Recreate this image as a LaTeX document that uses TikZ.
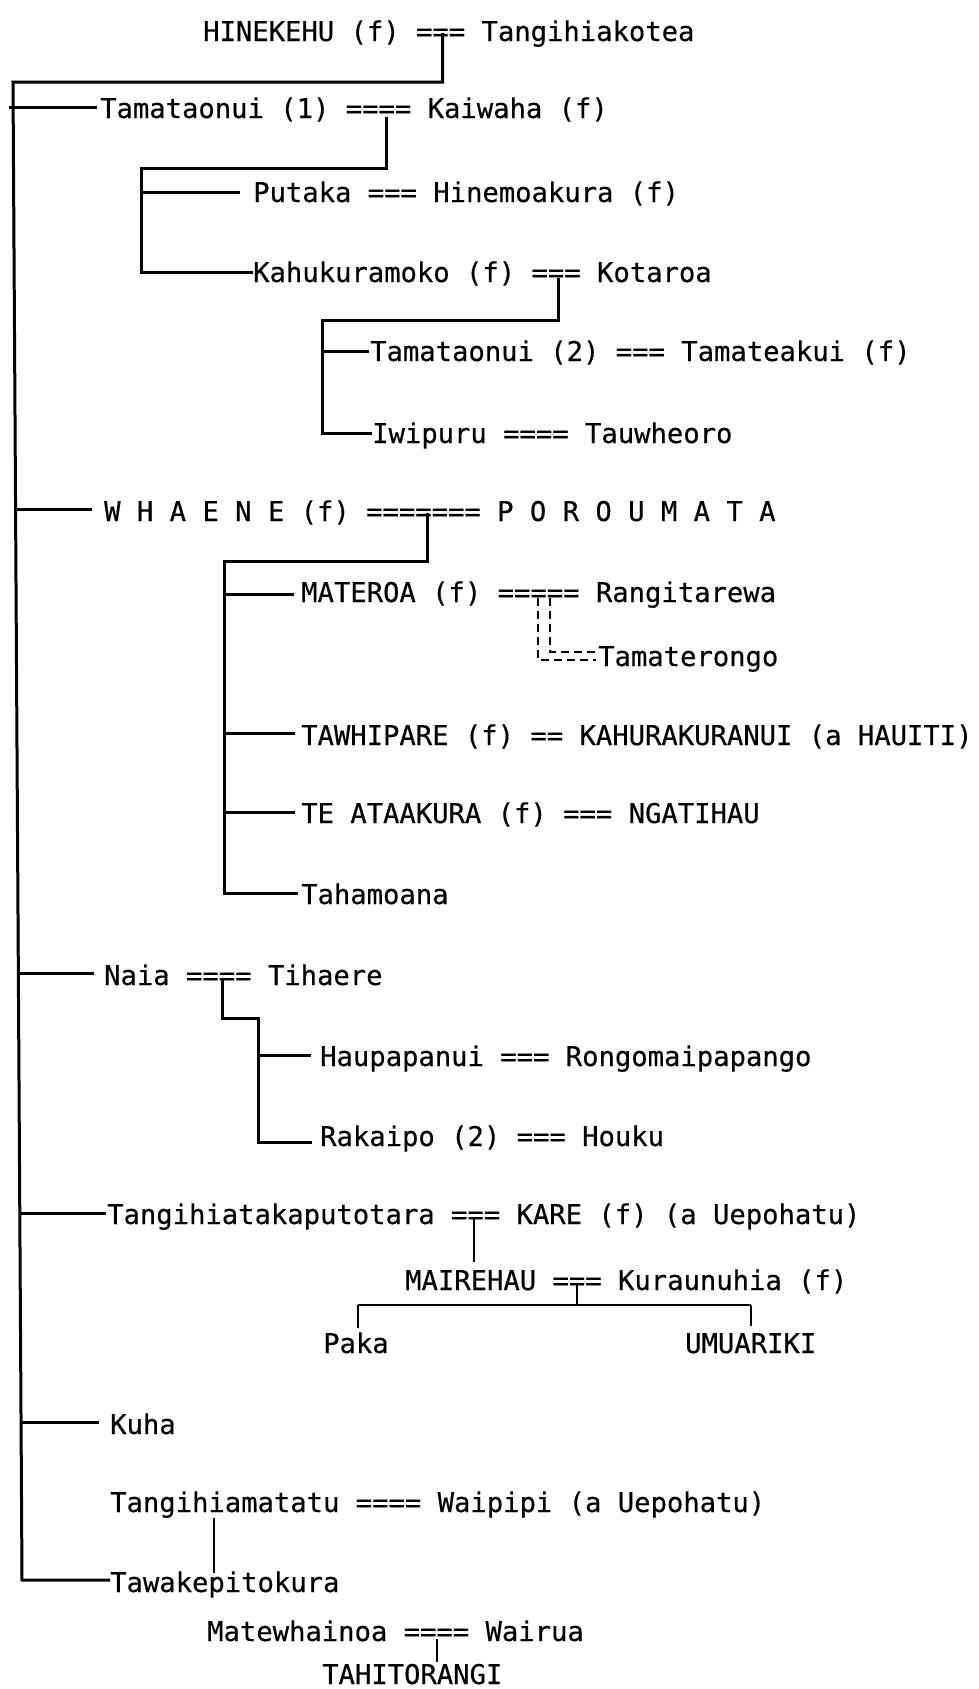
\documentclass[tikz,border=0pt]{standalone}
\usepackage{fontspec}
\newfontfamily\tw[FakeBold=0.4]{DejaVu Sans Mono}
\tikzset{
  person/.style={anchor=base west, inner sep=0pt, font=\tw\fontsize{27.2}{30}\selectfont},
  bracket/.style={line width=3pt, line join=miter},
  fineline/.style={line width=2pt},
  dbl/.style={line width=2pt, dash pattern=on 8pt off 5pt},
}
\begin{document}
\begin{tikzpicture}[x=1pt,y=-1pt]
\fill[white] (0,0) rectangle (978,1689);
\useasboundingbox (0,0) rectangle (978,1689);

% ---------- people ----------
\node[person] (hinekehu) at (203,41) {HINEKEHU (f) === Tangihiakotea};
\node[person] (tama1) at (100,118) {Tamataonui (1) ==== Kaiwaha (f)};
\node[person] (putaka) at (253,202) {Putaka === Hinemoakura (f)};
\node[person] (kahu) at (253,282) {Kahukuramoko (f) === Kotaroa};
\node[person] (tama2) at (370,361) {Tamataonui (2) === Tamateakui (f)};
\node[person] (iwi) at (372,443) {Iwipuru ==== Tauwheoro};
\node[person] (whaene) at (104,521) {W H A E N E (f) ======= P O R O U M A T A};
\node[person] (materoa) at (301,602) {MATEROA (f) ===== Rangitarewa};
\node[person] (tamatero) at (598,666) {Tamaterongo};
\node[person] (tawhi) at (301,745) {TAWHIPARE (f) == KAHURAKURANUI (a HAUITI)};
\node[person] (teata) at (301,823) {TE ATAAKURA (f) === NGATIHAU};
\node[person] (taha) at (301,904) {Tahamoana};
\node[person] (naia) at (104,985) {Naia ==== Tihaere};
\node[person] (haupa) at (320,1066) {Haupapanui === Rongomaipapango};
\node[person] (rakai) at (320,1146) {Rakaipo (2) === Houku};
\node[person] (tangta) at (107,1224) {Tangihiatakaputotara === KARE (f) (a Uepohatu)};
\node[person] (maire) at (405,1290) {MAIREHAU === Kuraunuhia (f)};
\node[person] (paka) at (323,1353) {Paka};
\node[person] (umu) at (685,1353) {UMUARIKI};
\node[person] (kuha) at (110,1434) {Kuha};
\node[person] (tangma) at (110,1512) {Tangihiamatatu ==== Waipipi (a Uepohatu)};
\node[person] (tawa) at (110,1592) {Tawakepitokura};
\node[person] (matew) at (207,1641) {Matewhainoa ==== Wairua};
\node[person] (tahi) at (322,1684) {TAHITORANGI};

% ---------- branch end points (at the names) ----------
\coordinate (tama1E) at ([xshift=-3pt,yshift=11pt]tama1.base west);
\coordinate (putakaE) at ([xshift=-13pt,yshift=10pt]putaka.base west);
\coordinate (kahuE) at ([xshift=0pt,yshift=10pt]kahu.base west);
\coordinate (tama2E) at ([xshift=-1pt,yshift=10pt]tama2.base west);
\coordinate (iwiE) at ([xshift=0pt,yshift=10pt]iwi.base west);
\coordinate (whaeneE) at ([xshift=-12pt,yshift=12pt]whaene.base west);
\coordinate (materoaE) at ([xshift=-7pt,yshift=8pt]materoa.base west);
\coordinate (tawhiE) at ([xshift=-6pt,yshift=12pt]tawhi.base west);
\coordinate (teataE) at ([xshift=-6pt,yshift=11pt]teata.base west);
\coordinate (tahaE) at ([xshift=-3pt,yshift=11pt]taha.base west);
\coordinate (naiaE) at ([xshift=-10pt,yshift=12pt]naia.base west);
\coordinate (haupaE) at ([xshift=-9pt,yshift=11pt]haupa.base west);
\coordinate (rakaiE) at ([xshift=-8pt,yshift=4pt]rakai.base west);
\coordinate (tangtaE) at ([xshift=-1pt,yshift=11pt]tangta.base west);
\coordinate (kuhaE) at ([xshift=-11pt,yshift=12pt]kuha.base west);
\coordinate (tawaE) at ([xshift=0pt,yshift=12pt]tawa.base west);

% ---------- main line of descent ----------
\coordinate (m1) at (442.5,33);
\coordinate (c1) at (442.5,82);
\coordinate (ttop) at (13,82);
\coordinate (tbot) at (22,1580);
\draw[bracket] (m1) -- (c1) -- (ttop) -- (tbot) -- (tawaE);

\coordinate (b1) at (9,107);
\coordinate (b2) at (15.6,509);
\coordinate (b3) at (18.4,973);
\coordinate (b4) at (19.8,1213);
\coordinate (b5) at (21,1422);
\draw[bracket] (b1) -- (tama1E);
\draw[bracket] (b2) -- (whaeneE);
\draw[bracket] (b3) -- (naiaE);
\draw[bracket] (b4) -- (tangtaE);
\draw[bracket] (b5) -- (kuhaE);

% ---------- Tamataonui (1) children ----------
\coordinate (m2) at (386,117);
\coordinate (s2) at (141,168);
\draw[bracket] (m2) |- (s2) |- (kahuE);
\draw[bracket] (s2 |- putakaE) -- (putakaE);

% ---------- Kahukuramoko children ----------
\coordinate (m3) at (558,278);
\coordinate (s3) at (322,320);
\draw[bracket] (m3) |- (s3) |- (iwiE);
\draw[bracket] (s3 |- tama2E) -- (tama2E);

% ---------- Whaene children ----------
\coordinate (m4) at (427,513);
\coordinate (s4) at (224,561);
\draw[bracket] (m4) |- (s4) |- (tahaE);
\draw[bracket] (s4 |- materoaE) -- (materoaE);
\draw[bracket] (s4 |- tawhiE) -- (tawhiE);
\draw[bracket] (s4 |- teataE) -- (teataE);

% Materoa -- Tamaterongo (dashed double line)
\coordinate (d1) at (538,598);
\coordinate (d2) at (550,598);
\coordinate (tamaterOut) at ([xshift=-2pt,yshift=6pt]tamatero.base west);
\coordinate (tamaterIn) at ([xshift=-2pt,yshift=14pt]tamatero.base west);
\draw[dbl] (d1) |- (tamaterOut);
\draw[dbl] (d2) |- (tamaterIn);

% ---------- Naia children ----------
\coordinate (m5) at (222,979);
\coordinate (j5) at (222,1018);
\coordinate (s5) at (258,1018);
\draw[bracket] (m5) -- (j5) -- (s5) |- (rakaiE);
\draw[bracket] (s5 |- haupaE) -- (haupaE);

% ---------- Tangihiatakaputotara line ----------
\coordinate (m6) at (474,1219);
\coordinate (k6) at (474,1262);
\draw[fineline] (m6) -- (k6);
\coordinate (m7) at (577,1285);
\coordinate (j7) at (577,1305);
\coordinate (pakaT) at (358,1328);
\coordinate (umuT) at (751,1326);
\draw[fineline] (m7) -- (j7);
\draw[line width=2.6pt] (pakaT |- j7) -- (umuT |- j7);
\draw[fineline] (pakaT |- j7) -- (pakaT);
\draw[fineline] (umuT |- j7) -- (umuT);

% ---------- Tangihiamatatu / Matewhainoa ----------
\coordinate (m8) at (214,1518);
\coordinate (k8) at (214,1573);
\draw[fineline] (m8) -- (k8);
\coordinate (m9) at (437,1639);
\coordinate (k9) at (437,1662);
\draw[fineline] (m9) -- (k9);
\end{tikzpicture}
\end{document}
